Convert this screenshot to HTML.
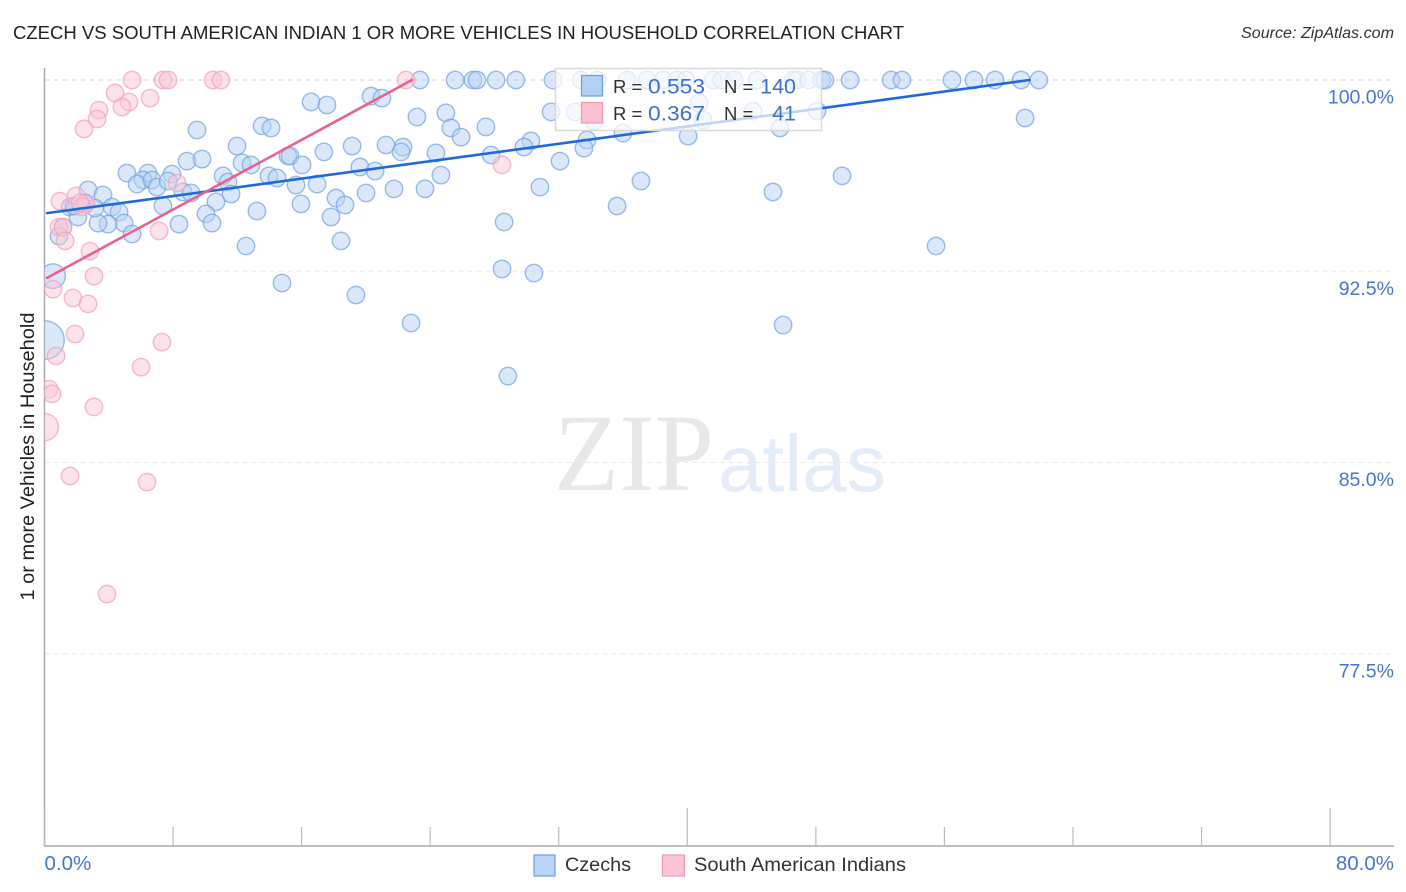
<!DOCTYPE html>
<html lang="en">
<head>
<meta charset="utf-8">
<title>Czech vs South American Indian 1 or More Vehicles in Household Correlation Chart</title>
<style>
html,body{margin:0;padding:0;background:#fff;}
svg{display:block;font-family:"Liberation Sans",sans-serif;}
</style>
</head>
<body>
<svg id="chart" xmlns="http://www.w3.org/2000/svg" width="1406" height="892" viewBox="0 0 1406 892">
  <defs>
    <clipPath id="plot-clip"><rect x="44.5" y="60" width="1350" height="786"></rect></clipPath>
  </defs>
  <rect x="0" y="0" width="1406" height="892" fill="#fff"></rect>
  <text x="13" y="39" font-size="18.5" fill="#222" textLength="891" lengthAdjust="spacingAndGlyphs">CZECH VS SOUTH AMERICAN INDIAN 1 OR MORE VEHICLES IN HOUSEHOLD CORRELATION CHART</text>
  <text x="1241" y="38" font-size="15.5" font-style="italic" fill="#333" textLength="153" lengthAdjust="spacingAndGlyphs">Source: ZipAtlas.com</text>

  <g id="grid"></g>

  <text x="554" y="490" font-family="'Liberation Serif',serif" font-size="110" fill="#e8e8e8" textLength="160" lengthAdjust="spacingAndGlyphs">ZIP</text>
  <text x="718" y="491" font-size="80" fill="#e3ecf9" textLength="168" lengthAdjust="spacingAndGlyphs">atlas</text>

  <g id="axes"></g>
  <g id="czech-points" clip-path="url(#plot-clip)"></g>
  <g id="pink-points" clip-path="url(#plot-clip)"></g>
  <g id="trend-lines"></g>
  <g id="tick-labels"></g>

  <text transform="translate(34,456.5) rotate(-90)" font-size="19" fill="#222" text-anchor="middle" textLength="288" lengthAdjust="spacingAndGlyphs">1 or more Vehicles in Household</text>

  <g>
    <rect x="555.5" y="68.5" width="266" height="62" fill="#fff" fill-opacity="0.72" stroke="#d9d9d9" stroke-width="1.5"></rect>
    <rect x="581.5" y="75.5" width="21" height="20.5" fill="#b3d0f5" stroke="#6f9fe0" stroke-width="1.2"></rect>
    <rect x="581.5" y="102.5" width="21" height="20.5" fill="#fbc0d2" stroke="#f09ab6" stroke-width="1.2"></rect>
    <text x="613" y="93" font-size="18.5" fill="#333">R =</text>
    <text x="648" y="93.5" font-size="21.5" fill="#3a72cc" textLength="57" lengthAdjust="spacingAndGlyphs">0.553</text>
    <text x="724" y="93" font-size="18.5" fill="#333">N =</text>
    <text x="796" y="93.5" font-size="21.5" fill="#3a72cc" text-anchor="end">140</text>
    <text x="613" y="120" font-size="18.5" fill="#333">R =</text>
    <text x="648" y="120.5" font-size="21.5" fill="#3a72cc" textLength="57" lengthAdjust="spacingAndGlyphs">0.367</text>
    <text x="724" y="120" font-size="18.5" fill="#333">N =</text>
    <text x="796" y="120.5" font-size="21.5" fill="#3a72cc" text-anchor="end">41</text>
  </g>

  <g>
    <rect x="534" y="855" width="21" height="21" fill="#b9d4f7" stroke="#6f9fe0" stroke-width="1.2"></rect>
    <text x="565" y="871" font-size="19.5" fill="#333" textLength="66" lengthAdjust="spacingAndGlyphs">Czechs</text>
    <rect x="662.5" y="855" width="22" height="21" fill="#fcc5d6" stroke="#ee9ab6" stroke-width="1.2"></rect>
    <text x="694" y="871" font-size="19.5" fill="#333" textLength="212" lengthAdjust="spacingAndGlyphs">South American Indians</text>
  </g>
</svg>

<script>
const yTickValues = [100, 92.5, 85, 77.5];
const yTickLabels = ["100.0%", "92.5%", "85.0%", "77.5%"];
const xTickValues = [0, 8, 16, 24, 32, 40, 48, 56, 64, 72, 80];
const xMajorTicks = [0, 40, 80];
const xEndValues = [0, 80];
const xEndLabels = ["0.0%", "80.0%"];

const czechX = [
  23.37,25.55,26.66,26.91,28.10,29.34,31.64,33.39,34.38,36.25,37.49,38.49,39.36,39.92,41.60,42.16,42.91,44.34,46.58,46.83,47.57,48.38,48.57,50.13,52.68,53.36,56.47,57.84,59.15,60.77,61.88,
  9.49,13.54,14.10,11.98,8.87,9.80,12.29,12.85,5.13,6.44,7.93,6.13,5.76,6.69,7.00,7.69,11.11,11.42,8.62,9.12,11.61,13.97,14.47,15.15,15.28,16.03,15.65,15.96,
  2.71,3.64,4.20,4.64,4.95,5.45,3.95,3.33,7.37,8.37,10.67,10.05,10.42,13.22,12.54,14.78,1.59,2.08,2.52,3.14,1.84,1.15,0.90,
  16.59,17.58,20.32,21.00,23.18,24.98,25.29,25.92,27.47,31.52,33.01,34.20,17.39,19.14,21.25,22.31,22.19,24.36,30.27,29.84,27.79,33.76,33.57,32.08,30.83,
  19.63,20.57,24.67,16.96,18.14,18.70,20.01,21.75,23.68,17.83,18.45,28.60,28.47,30.46,19.38,22.81,28.84,
  36.00,40.73,40.98,44.09,45.77,48.07,40.05,37.12,35.63,45.33,45.96,49.63,55.48,61.02
];
const czechY = [
  100,100,100,100,100,100,100,100,100,100,100,100,100,100,100,100,100,100,100,100,100,100,100,100,100,100,100,100,100,100,100,
  98.04,98.20,98.12,97.41,96.82,96.90,96.75,96.67,96.35,96.35,96.31,96.08,95.92,96.08,95.80,96.04,96.24,96.00,95.61,95.57,95.53,96.24,96.16,97.02,97.02,96.67,95.88,95.14,
  95.69,95.49,95.02,94.82,94.39,93.96,94.35,94.39,95.06,94.35,95.22,94.75,94.39,94.86,93.49,92.04,95.02,94.63,95.18,94.98,95.06,94.23,93.88,
  99.14,99.02,99.37,99.29,98.55,98.71,98.12,97.76,98.16,98.75,98.75,98.39,97.18,97.41,97.45,97.37,97.18,97.14,97.61,97.37,97.06,97.65,97.33,96.82,95.80,
  96.59,96.43,96.27,95.92,95.37,95.10,95.57,95.73,95.73,94.63,93.69,94.43,92.59,92.43,91.57,90.47,88.39,
  97.92,99.10,98.43,98.78,98.12,98.78,97.80,96.04,95.06,95.61,90.39,96.24,93.49,98.51
];
const czechBigX = [0.03, 0.53];
const czechBigY = [89.80, 92.31];
const czechBigWeight = [4.9, 2];

const pinkX = [
  5.45,7.37,7.69,10.49,10.98,22.50,
  4.39,6.57,5.26,4.82,3.39,3.27,2.46,8.25,0.96,1.96,2.58,2.33,2.21,0.90,1.15,1.28,2.83,7.13,3.08,
  0.53,1.77,2.71,1.90,7.31,0.72,6.01,0.28,0.47,3.08,1.59,6.38,3.89,28.47
];
const pinkY = [
  100,100,100,100,100,100,
  99.49,99.29,99.14,98.94,98.82,98.47,98.08,95.96,95.25,95.45,95.14,95.02,95.18,94.23,94.23,93.69,93.29,94.08,92.31,
  91.80,91.45,91.22,90.04,89.72,89.18,88.74,87.88,87.69,87.18,84.47,84.23,79.84,96.67
];
const pinkBigX = [0.03];
const pinkBigY = [86.39];
const pinkBigWeight = [2.4];

const czechTrendX = [0.16, 61.3];
const czechTrendY = [94.78, 100];
const pinkTrendX = [0.16, 22.87];
const pinkTrendY = [92.24, 100];

function xScale(v) { return 44.5 + v * 16.07; }
function yScale(v) { return 80 + (100 - v) * 25.5; }
function radius(weight) { return 8.7 * Math.sqrt(weight); }

const NS = "http://www.w3.org/2000/svg";
function make(tag, parent, attrs, text) {
  const el = document.createElementNS(NS, tag);
  for (const k in attrs) el.setAttribute(k, attrs[k]);
  if (text !== undefined) el.textContent = text;
  parent.appendChild(el);
  return el;
}

const grid = document.getElementById("grid");
const axes = document.getElementById("axes");
const tickLabels = document.getElementById("tick-labels");

yTickValues.forEach(function (v, i) {
  const line = make("line", grid, {x1: 44.5, x2: 1394, y1: yScale(v), y2: yScale(v), stroke: i === 0 ? "#d2d2d2" : "#e8e8e8", "stroke-width": 1, "stroke-dasharray": "5 4"});
  
  
  const label = make("text", tickLabels, {x: 1394, y: yScale(v) + 23.5, "font-size": 19.5, fill: "#4577d0", "text-anchor": "end"}, yTickLabels[i]);
  
  
});

const yAxisLine = make("line", axes, {x1: 44.5, x2: 44.5, y1: 68, y2: 846.5, stroke: "#aaa", "stroke-width": 1.5});


const xAxisLine = make("line", axes, {x1: 44, x2: 1394, y1: 846, y2: 846, stroke: "#aaa", "stroke-width": 1.5});



xTickValues.forEach(function (v) {
  const top = xMajorTicks.indexOf(v) >= 0 ? 808 : 827;
  const tick = make("line", axes, {x1: xScale(v), x2: xScale(v), y1: top, y2: 846, stroke: "#bbb", "stroke-width": 1.2});
  
  
});

xEndValues.forEach(function (v, i) {
  const label = make("text", tickLabels, i === 0
    ? {x: xScale(v), y: 870, "font-size": 20.5, fill: "#4577d0"}
    : {x: 1394, y: 870, "font-size": 20.5, fill: "#4577d0", "text-anchor": "end"}, xEndLabels[i]);
  
  
});

function drawPoint(parent, xv, yv, weight, fill, stroke) {
  const c = make("circle", parent, {cx: xScale(xv), cy: yScale(yv), r: radius(weight), fill: fill, "fill-opacity": 0.5, stroke: stroke, "stroke-opacity": 0.75, "stroke-width": 1.4});
  return c;
}

const czechGroup = document.getElementById("czech-points");
czechX.forEach(function (xv, i) {
  const c = drawPoint(czechGroup, xv, czechY[i], 1, "#b7d2f4", "#78a6e6");
  
  
});
czechBigX.forEach(function (xv, i) {
  const c = drawPoint(czechGroup, xv, czechBigY[i], czechBigWeight[i], "#b7d2f4", "#78a6e6");
  
  
});

const pinkGroup = document.getElementById("pink-points");
pinkX.forEach(function (xv, i) {
  const c = drawPoint(pinkGroup, xv, pinkY[i], 1, "#fac6d6", "#f2a3bd");
  
  
});
pinkBigX.forEach(function (xv, i) {
  const c = drawPoint(pinkGroup, xv, pinkBigY[i], pinkBigWeight[i], "#fac6d6", "#f2a3bd");
  
  
});

const trends = document.getElementById("trend-lines");
const czechLine = make("line", trends, {x1: xScale(czechTrendX[0]), y1: yScale(czechTrendY[0]), x2: xScale(czechTrendX[1]), y2: yScale(czechTrendY[1]), stroke: "#1f6adb", "stroke-width": 2.6, "stroke-linecap": "round"});


const pinkLine = make("line", trends, {x1: xScale(pinkTrendX[0]), y1: yScale(pinkTrendY[0]), x2: xScale(pinkTrendX[1]), y2: yScale(pinkTrendY[1]), stroke: "#e8628c", "stroke-width": 2.6, "stroke-linecap": "round"});


</script>
</body>
</html>
